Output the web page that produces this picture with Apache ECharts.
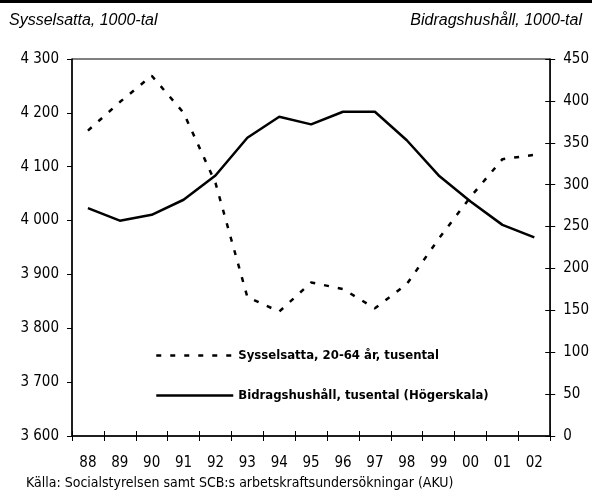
<!DOCTYPE html>
<html>
<head>
<meta charset="utf-8">
<script src="https://cdn.jsdelivr.net/npm/echarts@6/dist/echarts.min.js"></script>
<style>
  html, body { margin: 0; padding: 0; background: #fff; }
  #chart { width: 592px; height: 490px; }
</style>
</head>
<body>
<div id="chart"></div>
<script>
// years on the x axis
const years = ['88', '89', '90', '91', '92', '93', '94', '95', '96', '97', '98', '99', '00', '01', '02'];
// Sysselsatta, 20-64 år (left scale, 1000-tal)
const employed = [4167, 4220, 4269, 4200, 4070, 3858, 3831, 3885, 3873, 3837, 3882, 3966, 4044, 4114, 4122];
// Bidragshushåll (right scale, 1000-tal)
const households = [272, 257, 264, 282, 311, 356, 381, 372, 387, 387, 353, 311, 280, 252, 237];

const leftName = 'Sysselsatta, 20-64 år, tusental';
const rightName = 'Bidragshushåll, tusental (Högerskala)';

const narrow = '"DejaVu Sans Condensed", "Liberation Sans Narrow", sans-serif';

const chart = echarts.init(document.getElementById('chart'));

const thousands = v => String(v).replace(/\B(?=(\d{3})+$)/g, ' ');

const legendText = { fontFamily: narrow, fontWeight: 'bold', fontSize: 13, color: '#000' };

const option = {
    animation: false,
    grid: {
        left: 72, right: 39, top: 59, bottom: 54,
        show: true, borderColor: '#000', borderWidth: 1
    },
    legend: [
        {
            data: [leftName], left: 155, top: 349, padding: 0,
            itemWidth: 77, itemHeight: 10,
            itemStyle: { opacity: 0 },
            lineStyle: { type: [5, 9], width: 2.5 },
            textStyle: legendText
        },
        {
            data: [rightName], left: 155, top: 389, padding: 0,
            itemWidth: 77, itemHeight: 10,
            itemStyle: { opacity: 0 },
            lineStyle: { width: 2.5 },
            textStyle: legendText
        }
    ],
    xAxis: [
        {
            type: 'category', data: years, boundaryGap: true,
            axisLine: { lineStyle: { color: '#000', width: 1.5 } },
            axisTick: { show: true, interval: 0, length: 5, lineStyle: { color: '#000' } },
            axisLabel: { interval: 0, margin: 20, fontFamily: narrow, fontSize: 15, color: '#000' }
        },
        {
            // inner half of the crossing ticks
            type: 'category', data: years, boundaryGap: true, position: 'bottom',
            axisLine: { show: false },
            axisTick: { show: true, inside: true, interval: 0, length: 5, lineStyle: { color: '#000' } },
            axisLabel: { show: false }
        }
    ],
    yAxis: [
        {
            type: 'value', position: 'left', min: 3600, max: 4300, interval: 100,
            splitLine: { show: false },
            axisLine: { show: true, lineStyle: { color: '#000', width: 1.5 } },
            axisTick: { show: true, length: 5, lineStyle: { color: '#000' } },
            axisLabel: { margin: 13, fontFamily: narrow, fontSize: 15, color: '#000', formatter: thousands }
        },
        {
            type: 'value', position: 'right', min: 0, max: 450, interval: 50,
            splitLine: { show: false },
            axisLine: { show: true, lineStyle: { color: '#000', width: 1.5 } },
            axisTick: { show: true, length: 5, lineStyle: { color: '#000' } },
            axisLabel: { margin: 13, fontFamily: narrow, fontSize: 15, color: '#000' }
        },
        {
            type: 'value', position: 'right', min: 0, max: 450, interval: 50,
            splitLine: { show: false },
            axisLine: { show: false },
            axisTick: { show: true, inside: true, length: 5, lineStyle: { color: '#000' } },
            axisLabel: { show: false }
        }
    ],
    series: [
        {
            name: leftName, type: 'line', yAxisIndex: 0, data: employed,
            symbol: 'none', lineStyle: { color: '#000', width: 2.5, type: [5, 9] },
            itemStyle: { color: '#000' }
        },
        {
            name: rightName, type: 'line', yAxisIndex: 1, data: households,
            symbol: 'none', lineStyle: { color: '#000', width: 2.5 },
            itemStyle: { color: '#000' }
        }
    ],
    graphic: [
        { type: 'rect', left: 0, top: 0, shape: { width: 592, height: 3 }, style: { fill: '#000' } },
        {
            type: 'text', left: 9, top: 13,
            style: { text: 'Sysselsatta, 1000-tal', font: 'italic 16px "Liberation Sans", Arial, sans-serif', fill: '#000' }
        },
        {
            type: 'text', right: 10, top: 13,
            style: { text: 'Bidragshushåll, 1000-tal', font: 'italic 16px "Liberation Sans", Arial, sans-serif', fill: '#000' }
        },
        {
            type: 'text', left: 26, top: 476,
            style: { text: 'Källa: Socialstyrelsen samt SCB:s arbetskraftsundersökningar (AKU)', font: '14px ' + narrow, fill: '#000' }
        }
    ]
};

chart.setOption(option);
</script>
</body>
</html>
